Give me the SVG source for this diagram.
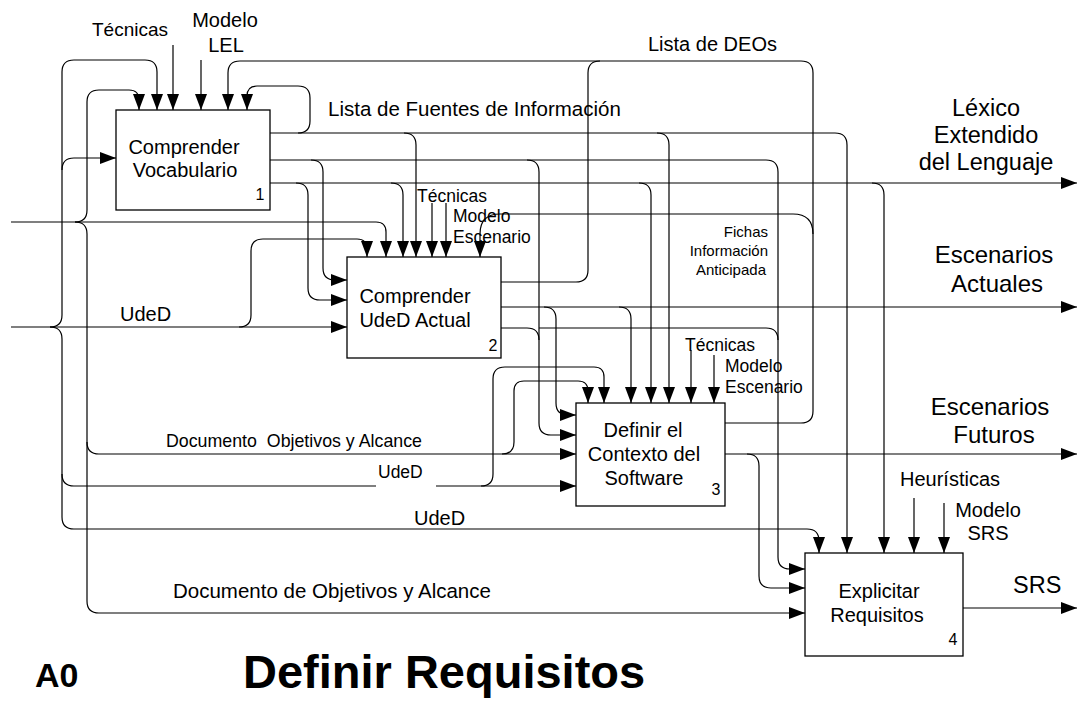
<svg xmlns="http://www.w3.org/2000/svg" width="1078" height="704" viewBox="0 0 1078 704">
<defs>
<marker id="ah" markerUnits="userSpaceOnUse" markerWidth="16" markerHeight="12" refX="16" refY="6" orient="auto"><path d="M0,0 L16,6 L0,12 z" fill="#000"/></marker>
<style>
.c{fill:none;stroke:#000;stroke-width:1.2}
.a{marker-end:url(#ah)}
.box{fill:#fff;stroke:#000;stroke-width:1.3}
text{font-family:"Liberation Sans",Arial,sans-serif;fill:#000}
.bt{font-size:20px;text-anchor:middle}
.num{font-size:16px;text-anchor:middle}
.l20{font-size:20px}
.l17{font-size:17.5px}
.big{font-size:24px;text-anchor:middle}
</style>
</defs>
<rect width="1078" height="704" fill="#fff"/>
<g id="connectors">
<path class="c a" d="M11,327 H347"/>
<path class="c a" d="M50,327 Q62,327 62,315 V72 Q62,60 74,60 H145 Q157,60 157,72 V110"/>
<path class="c a" d="M62,170 Q62,158 74,158 H116"/>
<path class="c" d="M50,327 Q62,327 62,339 V474 Q62,486 74,486 H376"/>
<path class="c a" d="M436,486 H576"/>
<path class="c a" d="M62,474 V517 Q62,529 74,529 H807 Q819,529 819,541 V553"/>
<path class="c a" d="M239,327 Q251,327 251,315 V251 Q251,239 263,239 H357 Q367,239 367,249 V257"/>
<path class="c a" d="M481,486 Q493,486 493,474 V379 Q493,367 505,367 H594 Q604,367 604,377 V403"/>
<path class="c a" d="M11,222 H376 Q386,222 386,232 V257"/>
<path class="c a" d="M75,222 Q87,222 87,210 V102 Q87,90 99,90 H129 Q139,90 139,100 V110"/>
<path class="c a" d="M75,222 Q87,222 87,234 V601 Q87,613 99,613 H805"/>
<path class="c a" d="M87,442 Q87,454 99,454 H576"/>
<path class="c a" d="M502,454 Q514,454 514,442 V391 Q514,381 524,381 H578 Q588,381 588,391 V403"/>
<path class="c a" d="M270,133 H835 Q847,133 847,145 V553"/>
<path class="c a" d="M298,133 Q310,133 310,121 V98 Q310,86 298,86 H257 Q247,86 247,96 V110"/>
<path class="c a" d="M404,133 Q416,133 416,145 V257"/>
<path class="c a" d="M657,133 Q669,133 669,145 V403"/>
<path class="c a" d="M270,160 H766 Q778,160 778,172 V557 Q778,569 790,569 H805"/>
<path class="c a" d="M311,160 Q323,160 323,172 V268 Q323,280 335,280 H347"/>
<path class="c a" d="M527,160 Q539,160 539,172 V423 Q539,435 551,435 H576"/>
<path class="c a" d="M270,183 H1077"/>
<path class="c a" d="M296,183 Q308,183 308,195 V288 Q308,300 320,300 H347"/>
<path class="c a" d="M391,183 Q403,183 403,195 V257"/>
<path class="c a" d="M639,183 Q651,183 651,195 V403"/>
<path class="c a" d="M872,183 Q884,183 884,195 V553"/>
<path class="c" d="M501,282 H576 Q588,282 588,270 V73 Q588,61 600,61"/>
<path class="c a" d="M725,423 H801 Q813,423 813,411 V73 Q813,61 801,61 H240 Q228,61 228,73 V110"/>
<path class="c a" d="M813,234 Q813,214 793,214 H500 Q480,214 480,234 V257"/>
<path class="c a" d="M501,307 H1077"/>
<path class="c a" d="M544,307 Q556,307 556,319 V403 Q556,415 568,415 H576"/>
<path class="c a" d="M619,307 Q631,307 631,319 V403"/>
<path class="c" d="M501,328 H527 Q539,328 539,340"/>
<path class="c" d="M539,328 H766 Q778,328 778,340"/>
<path class="c a" d="M725,454 H1077"/>
<path class="c a" d="M747,454 Q759,454 759,466 V576 Q759,588 771,588 H805"/>
<path class="c a" d="M963,608 H1077"/>
<path class="c a" d="M173,45 V110"/>
<path class="c a" d="M201,60 V110"/>
<path class="c a" d="M432,203 V257"/>
<path class="c a" d="M446,203 V257"/>
<path class="c a" d="M691,350 V403"/>
<path class="c a" d="M714,355 V403"/>
<path class="c a" d="M914,498 V553"/>
<path class="c a" d="M944,503 V553"/>
</g>
<g id="node1">
<rect class="box" x="116" y="110" width="154" height="100"/>
<text class="bt" x="184" y="154">Comprender</text>
<text class="bt" x="185" y="177">Vocabulario</text>
<text class="num" x="260" y="200">1</text>
</g>
<g id="node2">
<rect class="box" x="347" y="257" width="154" height="101"/>
<text class="bt" x="415" y="303">Comprender</text>
<text class="bt" x="415" y="327">UdeD Actual</text>
<text class="num" x="493" y="351">2</text>
</g>
<g id="node3">
<rect class="box" x="576" y="403" width="149" height="103"/>
<text class="bt" x="643" y="437">Definir el</text>
<text class="bt" x="644" y="461">Contexto del</text>
<text class="bt" x="644" y="485">Software</text>
<text class="num" x="716" y="495">3</text>
</g>
<g id="node4">
<rect class="box" x="805" y="553" width="158" height="103"/>
<text class="bt" x="879" y="598">Explicitar</text>
<text class="bt" x="877" y="622">Requisitos</text>
<text class="num" x="953" y="645">4</text>
</g>
<g id="labels">
<text x="92" y="36" style="font-size:19px">Técnicas</text>
<text x="225" y="27" class="l20" text-anchor="middle">Modelo</text>
<text x="226" y="52" class="l20" text-anchor="middle">LEL</text>
<text x="648" y="51" class="l20">Lista de DEOs</text>
<text x="328" y="116" style="font-size:20.5px">Lista de Fuentes de Información</text>
<text x="986" y="116" style="font-size:23.5px" text-anchor="middle">Léxico</text>
<text x="986" y="143" style="font-size:23.5px" text-anchor="middle">Extendido</text>
<text x="986" y="170" style="font-size:23.5px" text-anchor="middle">del Lenguaje</text>
<text x="417" y="202" class="l17">Técnicas</text>
<text x="453" y="222" class="l17">Modelo</text>
<text x="453" y="243" class="l17">Escenario</text>
<text x="768" y="237" style="font-size:15px" text-anchor="end">Fichas</text>
<text x="768" y="256" style="font-size:15px" text-anchor="end">Información</text>
<text x="766" y="275" style="font-size:15px" text-anchor="end">Anticipada</text>
<text x="994" y="263" class="big">Escenarios</text>
<text x="997" y="292" class="big">Actuales</text>
<text x="120" y="321" class="l20">UdeD</text>
<text x="685" y="351" class="l17">Técnicas</text>
<text x="725" y="372" class="l17">Modelo</text>
<text x="725" y="393" class="l17">Escenario</text>
<text x="990" y="415" class="big">Escenarios</text>
<text x="994" y="443" class="big">Futuros</text>
<text x="166" y="447" style="font-size:17.8px" xml:space="preserve">Documento  Objetivos y Alcance</text>
<text x="378" y="478" class="l17">UdeD</text>
<text x="414" y="525" class="l20">UdeD</text>
<text x="900" y="486" class="l20">Heurísticas</text>
<text x="988" y="517" class="l20" text-anchor="middle">Modelo</text>
<text x="988" y="540" class="l20" text-anchor="middle">SRS</text>
<text x="173" y="598" style="font-size:20.5px">Documento de Objetivos y Alcance</text>
<text x="1013" y="593" style="font-size:23.5px">SRS</text>
<text x="35" y="687" style="font-size:34px;font-weight:bold">A0</text>
<text x="243" y="688" style="font-size:47px;font-weight:bold">Definir Requisitos</text>
</g>
</svg>
